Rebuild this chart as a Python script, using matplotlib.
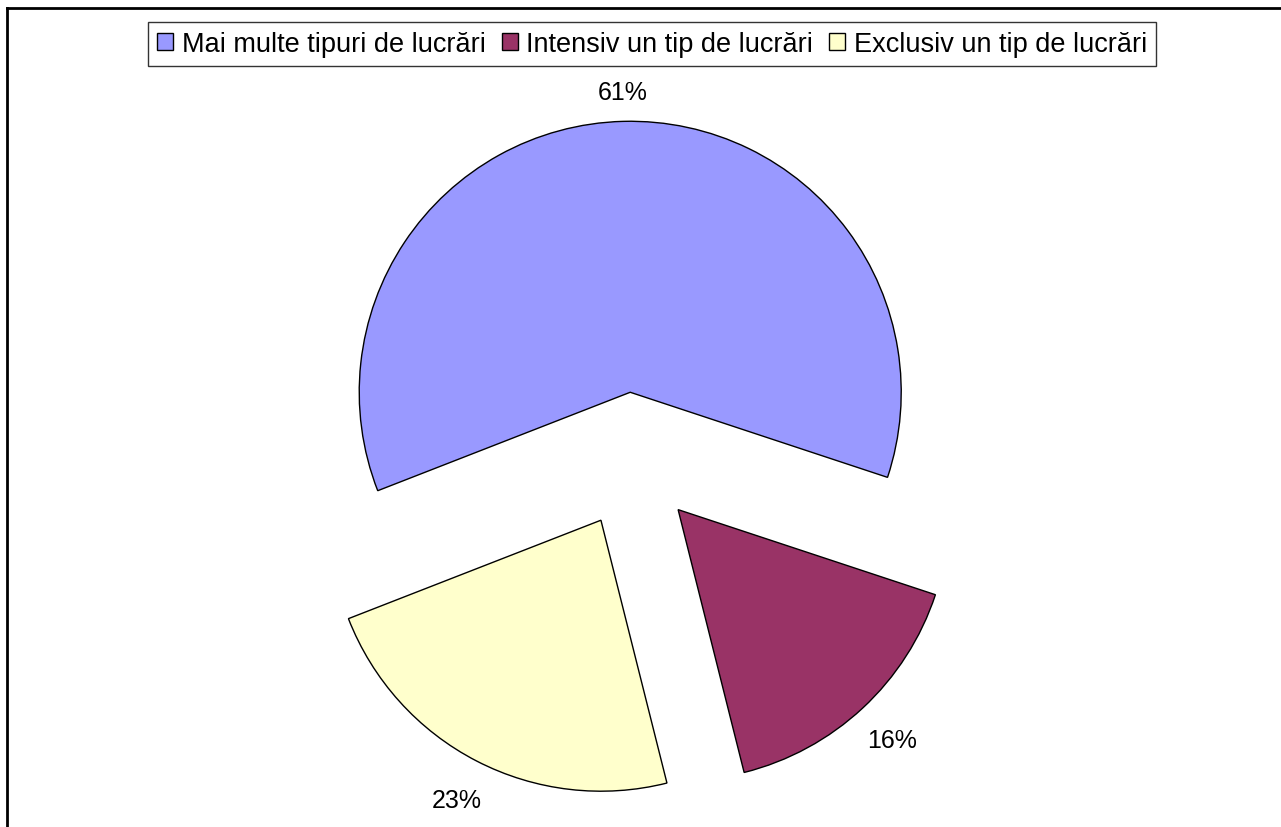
import numpy as np
import matplotlib.pyplot as plt
from matplotlib.lines import Line2D

# data
labels = ["Mai multe tipuri de lucrări", "Intensiv un tip de lucrări",
          "Exclusiv un tip de lucrări"]
shares = [61, 16, 23]
colors = ["#9999FF", "#993366", "#FFFFCC"]

plt.rcParams['font.family'] = ['Liberation Sans', 'DejaVu Sans']

W, H = 1281, 828
fig = plt.figure(figsize=(W / 100, H / 100), dpi=100)
ax = fig.add_axes([0, 0, 1, 1])

# pie center and radius in pixels
cx, cy, r = 632, 461, 271
explode = 0.25

wedges, texts, autotexts = ax.pie(
    shares, colors=colors, explode=[explode] * 3, startangle=201.3,
    counterclock=False, autopct='%1.0f%%', pctdistance=1.16,
    wedgeprops=dict(edgecolor='black', linewidth=1.0),
    textprops=dict(fontsize=18, color='black'))

# excel puts the label of the big slice a little closer
w = wedges[0]
mid = np.deg2rad((w.theta1 + w.theta2) / 2)
d = explode + 1.11
autotexts[0].set_position((d * np.cos(mid), d * np.sin(mid)))

ax.set_aspect('auto')
ax.set_xlim(-cx / r, (W - cx) / r)
ax.set_ylim(-(H - cy) / r, cy / r)
ax.axis('off')

# outer frame (partly cut off)
fig.add_artist(Line2D([7 / W, 1], [1 - 9 / H, 1 - 9 / H], color='black',
                      lw=2, transform=fig.transFigure))
fig.add_artist(Line2D([7 / W, 7 / W], [0, 1 - 9 / H], color='black',
                      lw=2, transform=fig.transFigure))

leg = fig.legend(wedges, labels, loc='upper center', ncol=3,
                 bbox_to_anchor=(652 / W, 1 - 23 / H), fontsize=19.5,
                 frameon=True, fancybox=False, handlelength=0.6,
                 handleheight=0.6, handletextpad=0.3, columnspacing=0.6,
                 borderpad=0.33, borderaxespad=0)
leg.get_frame().set_edgecolor('black')
leg.get_frame().set_linewidth(1.0)

fig.savefig("out.png", dpi=100)
